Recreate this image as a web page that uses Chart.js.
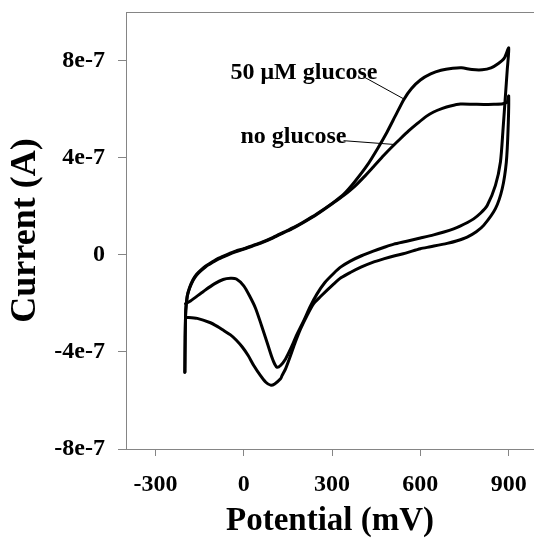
<!DOCTYPE html>
<html>
<head>
<meta charset="utf-8">
<script src="https://cdn.jsdelivr.net/npm/chart.js@4"></script>
<style>
  html, body { margin: 0; padding: 0; background: #fff; }
  #wrap { width: 534px; height: 544px; }
</style>
</head>
<body>
<div id="wrap"><canvas id="cvChart" width="534" height="544"></canvas></div>
<script>
// potential (mV) and current (units of 1e-7 A)
const potGlucose = [
  -200, -199, -197, -192, -184, -172, -160, -145, -128, -105, -85, -55, -28, 0, 30, 62, 100, 136, 170, 200, 249, 306,
  340, 375, 419, 455, 487, 515, 544, 570, 600, 635, 670, 710, 740, 775, 810, 840, 865, 885, 900,
  895, 889, 881, 872, 855, 827, 805, 781, 760, 735, 713, 680, 645, 600, 550, 510, 475, 440, 400, 362, 330, 306, 275, 249, 225, 204, 180, 159, 142, 125, 113,
  105, 95, 79, 60, 40, 20, 0, -25, -45, -70, -100, -136, -181, -198
];
const curGlucose = [
  -4.84, -3.4, -2.3, -1.7, -1.35, -1.02, -0.80, -0.62, -0.45, -0.28, -0.14, 0.02, 0.15, 0.25, 0.38, 0.52, 0.72, 0.93, 1.13, 1.33, 1.69, 2.17,
  2.50, 2.98, 3.68, 4.38, 5.06, 5.72, 6.40, 6.85, 7.20, 7.45, 7.60, 7.68, 7.70, 7.63, 7.62, 7.70, 7.88, 8.10, 8.52,
  7.6, 6.57, 5.20, 3.82, 2.86, 2.03, 1.72, 1.48, 1.33, 1.18, 1.07, 0.94, 0.82, 0.69, 0.55, 0.44, 0.30, 0.15, -0.04, -0.26, -0.50, -0.76, -1.15, -1.61, -2.15, -2.71, -3.3, -3.88, -4.29, -4.56, -4.63,
  -4.5, -4.2, -3.6, -2.9, -2.2, -1.7, -1.28, -1.0, -0.97, -1.02, -1.2, -1.5, -1.9, -2.02
];

const potNoGlucose = [
  -200, -199, -197, -192, -184, -172, -160, -145, -128, -105, -85, -55, -28, 0, 30, 62, 100, 136, 170, 200, 249, 306,
  340, 375, 408, 440, 476, 504, 532, 560, 589, 620, 645, 675, 702, 736, 780, 815, 850, 880, 895, 900,
  898, 892, 878, 855, 815, 790, 759, 725, 691, 634, 600, 550, 510, 475, 440, 400, 362, 330, 306, 260, 237, 215, 193, 175, 159, 142, 130, 125, 105, 91,
  75, 57, 34, 15, -5, -25, -45, -68, -90, -113, -158, -198
];
const curNoGlucose = [
  -4.84, -3.4, -2.3, -1.72, -1.38, -1.05, -0.83, -0.65, -0.48, -0.31, -0.17, -0.01, 0.12, 0.23, 0.36, 0.50, 0.70, 0.91, 1.11, 1.31, 1.67, 2.15,
  2.45, 2.80, 3.20, 3.62, 4.10, 4.45, 4.78, 5.10, 5.40, 5.70, 5.88, 6.03, 6.13, 6.21, 6.20, 6.19, 6.20, 6.22, 6.30, 6.54,
  5.20, 3.82, 2.72, 1.90, 1.21, 0.95, 0.73, 0.58, 0.47, 0.33, 0.25, 0.07, -0.05, -0.17, -0.30, -0.50, -0.73, -0.95, -1.20, -1.73, -2.02, -2.5, -3.05, -3.6, -4.15, -4.70, -4.98, -5.11, -5.32, -5.37,
  -5.25, -4.98, -4.56, -4.15, -3.80, -3.52, -3.30, -3.12, -2.95, -2.80, -2.62, -2.57
];

const xTicks = [-300, 0, 300, 600, 900];
const yTicks = [-8e-7, -4e-7, 0, 4e-7, 8e-7];
const yTickLabels = ['-8e-7', '-4e-7', '0', '4e-7', '8e-7'];

function toPoints(pot, cur) {
  return pot.map((p, i) => ({ x: p, y: cur[i] * 1e-7 }));
}

// text labels with leader lines, in data units
const notes = [
  { text: '50 \u03BCM glucose', x: -45, y: 7.22e-7, from: [406, 7.34e-7], to: [542, 6.43e-7] },
  { text: 'no glucose', x: -11, y: 4.62e-7, from: [339, 4.70e-7], to: [515, 4.54e-7] }
];

const serif = '"Liberation Serif", "Times New Roman", serif';
const axisGray = '#858585';

const frameAndNotes = {
  id: 'frameAndNotes',
  afterDraw(chart) {
    const ctx = chart.ctx;
    const area = chart.chartArea;
    const xs = chart.scales.x, ys = chart.scales.y;
    ctx.save();
    // top edge of the plot box
    ctx.strokeStyle = axisGray;
    ctx.lineWidth = 1;
    ctx.beginPath();
    ctx.moveTo(area.left, area.top + 0.5);
    ctx.lineTo(area.right, area.top + 0.5);
    ctx.stroke();
    // annotations
    ctx.fillStyle = '#000';
    ctx.strokeStyle = '#000';
    ctx.font = 'bold 24px ' + serif;
    ctx.textBaseline = 'alphabetic';
    notes.forEach(n => {
      ctx.fillText(n.text, xs.getPixelForValue(n.x), ys.getPixelForValue(n.y));
      ctx.beginPath();
      ctx.moveTo(xs.getPixelForValue(n.from[0]), ys.getPixelForValue(n.from[1]));
      ctx.lineTo(xs.getPixelForValue(n.to[0]), ys.getPixelForValue(n.to[1]));
      ctx.stroke();
    });
    ctx.restore();
  }
};

const lineStyle = {
  showLine: true,
  borderColor: '#000',
  borderWidth: 3,
  pointRadius: 0,
  tension: 0.25,
  borderJoinStyle: 'round',
  borderCapStyle: 'round',
  fill: false
};

const ctx = document.getElementById('cvChart').getContext('2d');
new Chart(ctx, {
  type: 'scatter',
  data: {
    datasets: [
      Object.assign({ label: '50 uM glucose', data: toPoints(potGlucose, curGlucose) }, lineStyle),
      Object.assign({ label: 'no glucose', data: toPoints(potNoGlucose, curNoGlucose) }, lineStyle)
    ]
  },
  options: {
    responsive: false,
    animation: false,
    layout: { padding: { top: 12, left: 0, right: 0, bottom: 0 } },
    plugins: { legend: { display: false }, tooltip: { enabled: false } },
    scales: {
      x: {
        type: 'linear',
        min: -400,
        max: 986,
        afterBuildTicks: (scale) => { scale.ticks = xTicks.map(v => ({ value: v })); },
        afterFit: (scale) => {
          scale.height = 95;
          scale.paddingLeft = 0;
          scale.paddingRight = 0;
        },
        grid: { drawOnChartArea: false, drawTicks: true, tickLength: 7, color: axisGray },
        border: { display: true, color: axisGray, width: 1 },
        ticks: {
          color: '#000',
          padding: 14,
          maxRotation: 0,
          font: { family: serif, size: 24, weight: 'bold' },
          callback: (v) => String(v)
        },
        title: {
          display: true,
          text: 'Potential (mV)',
          color: '#000',
          font: { family: serif, size: 33, weight: 'bold' },
          padding: { top: 0, bottom: 3 }
        }
      },
      y: {
        type: 'linear',
        min: -8e-7,
        max: 1e-6,
        afterBuildTicks: (scale) => { scale.ticks = yTicks.map(v => ({ value: v })); },
        afterFit: (scale) => {
          scale.width = 126;
          scale.paddingTop = 0;
          scale.paddingBottom = 0;
        },
        grid: { drawOnChartArea: false, drawTicks: true, tickLength: 8, color: axisGray },
        border: { display: true, color: axisGray, width: 1 },
        ticks: {
          color: '#000',
          padding: 13,
          font: { family: serif, size: 24, weight: 'bold' },
          callback: (v, i) => yTickLabels[i]
        },
        title: {
          display: true,
          text: 'Current (A)',
          color: '#000',
          font: { family: serif, size: 36, weight: 'bold' },
          padding: { top: 4, bottom: 0 }
        }
      }
    }
  },
  plugins: [frameAndNotes]
});
</script>
</body>
</html>
